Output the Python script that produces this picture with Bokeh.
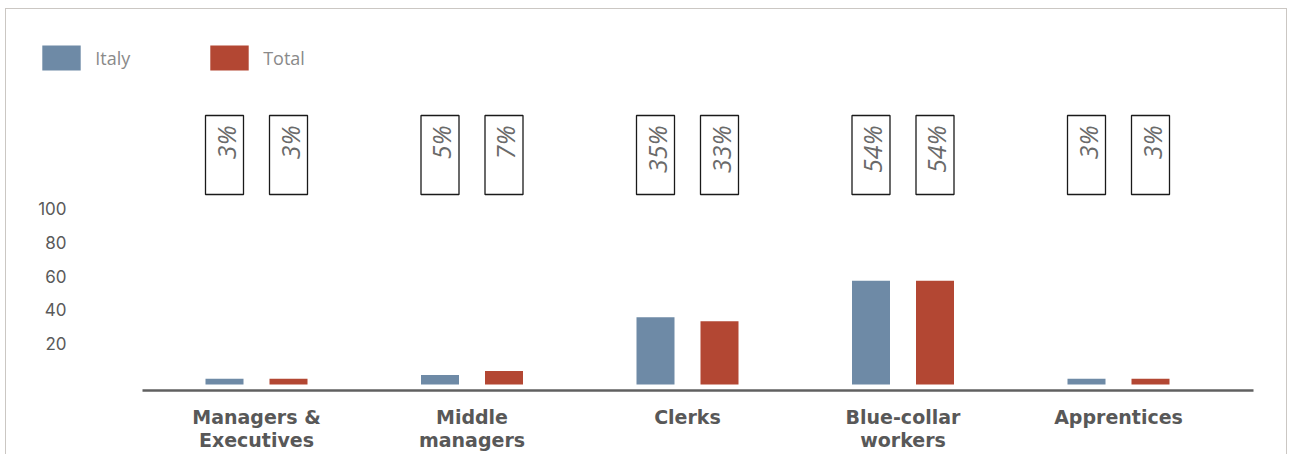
from math import pi
from bokeh.plotting import figure
from bokeh.models import (Range1d, LinearAxis, FixedTicker, ColumnDataSource,
                          Legend, LegendItem)
from bokeh.transform import dodge
from bokeh.embed import file_html
from bokeh.resources import INLINE

# ---- data ----
categories = ["Managers &\nExecutives", "Middle\nmanagers", "Clerks",
              "Blue-collar\nworkers", "Apprentices"]
italy = [3, 5, 35, 54, 3]
total = [3, 7, 33, 54, 3]
series_names = ["Italy", "Total"]
y_ticks = [20, 40, 60, 80, 100]

# ---- style / layout (canvas pixels) ----
C_ITALY = "#6E8AA6"
C_TOTAL = "#B34733"
W, H = 1282, 446
FRAME_L, FRAME_R, FRAME_T, FRAME_B = 29, 1247, 21, 381
AXIS_L = 136            # where the x axis line starts (canvas px)
PX_PER_CAT = 215.5
FIRST_CENTER = 250      # canvas px of first category centre
OFF = 32 / PX_PER_CAT
BW = 38 / PX_PER_CAT

idx = list(range(len(categories)))
src = ColumnDataSource(dict(
    x=idx, italy=italy, total=total,
    italy_lbl=[f"{v}%" for v in italy],
    total_lbl=[f"{v}%" for v in total],
))

frame_w = FRAME_R - FRAME_L
frame_h = FRAME_B - FRAME_T
x_start = -(FIRST_CENTER - FRAME_L) / PX_PER_CAT
x_end = x_start + frame_w / PX_PER_CAT
axis_start = x_start + (AXIS_L - FRAME_L) / PX_PER_CAT

px_per_unit = 1.92
base_off = 6  # px between frame bottom and bar baseline
y_start = -base_off / px_per_unit
y_end = (frame_h - base_off) / px_per_unit

p = figure(width=W, height=H, output_backend="svg", toolbar_location=None,
           x_range=Range1d(x_start, x_end), y_range=Range1d(y_start, y_end),
           y_axis_location=None, x_axis_location=None,
           min_border_left=FRAME_L, min_border_right=W - FRAME_R,
           min_border_top=FRAME_T, min_border_bottom=H - FRAME_B,
           background_fill_color="white", border_fill_color="white")
p.outline_line_color = None
p.xgrid.visible = False
p.ygrid.visible = False
p.styles = {"margin-left": "5px", "margin-top": "8px",
            "border-top": "1px solid #cbc7c3",
            "border-left": "1px solid #cbc7c3",
            "border-right": "1px solid #cbc7c3"}

# tick-label scale (labels sit slightly offset from the bar scale, as in the reference)
tick_px = 1.6875
tick_zero = 346.75  # px below frame top where 0 would be
p.extra_y_ranges = {
    "tick": Range1d(-(frame_h - tick_zero) / tick_px, tick_zero / tick_px),
    "lab": Range1d(0, frame_h),
}

yax = LinearAxis(y_range_name="tick", ticker=FixedTicker(ticks=y_ticks))
yax.axis_line_color = None
yax.major_tick_line_color = None
yax.minor_tick_line_color = None
yax.major_label_standoff = -37
yax.major_label_text_font = "Inter"
yax.major_label_text_font_size = "17px"
yax.major_label_text_color = "#5a5a5a"
p.add_layout(yax, "left")

xax = LinearAxis(ticker=FixedTicker(ticks=idx), bounds=(axis_start, x_end))
xax.major_label_overrides = {i: c for i, c in zip(idx, categories)}
xax.axis_line_color = "#606060"
xax.axis_line_width = 2.5
xax.major_tick_line_color = None
xax.minor_tick_line_color = None
xax.major_label_standoff = 9
xax.major_label_text_font = "DejaVu Sans"
xax.major_label_text_font_style = "bold"
xax.major_label_text_font_size = "19px"
xax.major_label_text_color = "#585858"
xax.major_label_text_line_height = 1.08
p.add_layout(xax, "below")

r1 = p.vbar(x=dodge("x", -OFF, range=p.x_range), top="italy", bottom=0, width=BW,
            source=src, fill_color=C_ITALY, line_color=None)
r2 = p.vbar(x=dodge("x", OFF, range=p.x_range), top="total", bottom=0, width=BW,
            source=src, fill_color=C_TOTAL, line_color=None)

# value boxes above the bars (y in px above the frame bottom)
box_top, box_bot = 275, 196
for off, col in [(-OFF, "italy_lbl"), (OFF, "total_lbl")]:
    p.rect(x=dodge("x", off, range=p.x_range), y=(box_top + box_bot) / 2,
           width=BW, height=box_top - box_bot, source=src, y_range_name="lab",
           fill_color="white", line_color="#1a1a1a", line_width=1.3)
    p.text(x=dodge("x", off + 1 / PX_PER_CAT, range=p.x_range), y=box_top - 10,
           text=col, source=src, y_range_name="lab", angle=pi / 2,
           text_align="right", text_baseline="middle",
           text_font={"value": "Open Sans"}, text_font_style="italic",
           text_font_size="25px", text_color="#6a6a6a")

legend = Legend(items=[LegendItem(label=series_names[0], renderers=[r1]),
                       LegendItem(label=series_names[1], renderers=[r2])],
                orientation="horizontal", location=(2.2, 317))
legend.padding = 0
legend.margin = 0
legend.spacing = 10
legend.glyph_width = 48
legend.glyph_height = 31
legend.label_width = 100
legend.label_height = 31
legend.label_standoff = 10
legend.label_text_font = "Open Sans"
legend.label_text_font_size = "18px"
legend.label_text_color = "#8a8a8a"
legend.label_text_baseline = "middle"
legend.border_line_color = None
legend.background_fill_alpha = 0
p.add_layout(legend, "center")

open("out.html", "w").write(file_html(p, INLINE))
